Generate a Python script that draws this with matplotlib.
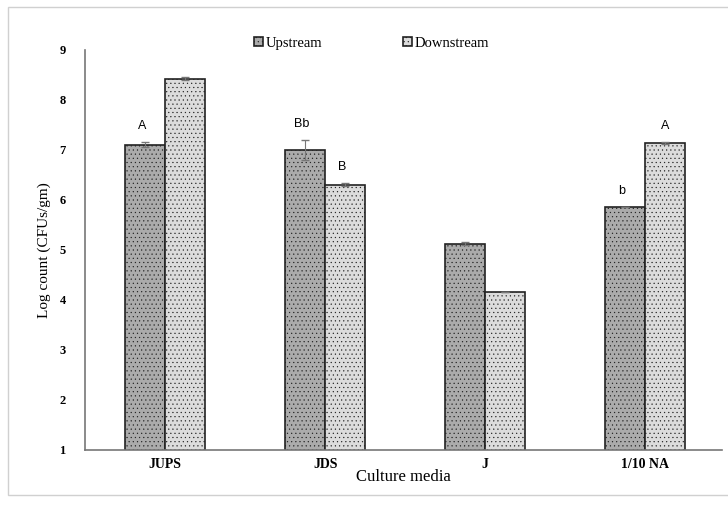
import numpy as np
import matplotlib.pyplot as plt

media = ["JUPS", "JDS", "J", "1/10 NA"]
upstream = [7.1, 7.0, 5.12, 5.86]
downstream = [8.42, 6.3, 4.16, 7.14]
up_err = [0.05, 0.2, 0.03, 0.0]
down_err = [0.03, 0.03, 0.0, 0.02]
up_letters = ["A", "Bb", "", "b"]
down_letters = ["", "B", "", "A"]

plt.rcParams["hatch.linewidth"] = 0.35
plt.rcParams["hatch.color"] = "#9a9a9a"

fig = plt.figure(figsize=(7.28, 5.09), dpi=100)
ax = fig.add_axes([0.117, 0.116, 0.875, 0.786])

x = np.arange(len(media))
w = 0.25
b1 = ax.bar(x - w / 2, upstream, w, bottom=0, color="#ababab", edgecolor="#222222",
            linewidth=1.2, hatch="....", yerr=up_err,
            error_kw=dict(ecolor="#777777", capsize=3, elinewidth=0.8))
b2 = ax.bar(x + w / 2, downstream, w, bottom=0, color="#dcdcdc", edgecolor="#222222",
            linewidth=1.2, hatch="....", yerr=down_err,
            error_kw=dict(ecolor="#777777", capsize=3, elinewidth=0.8))

for xi, v, e, t in zip(x - w / 2, upstream, up_err, up_letters):
    if t:
        ax.text(xi - 0.02, v + e + 0.2, t, ha="center", va="bottom",
                family="Liberation Sans", fontsize=9)
for xi, v, e, t in zip(x + w / 2, downstream, down_err, down_letters):
    if t:
        ax.text(xi - 0.02 if t == "B" else xi, v + e + 0.2, t, ha="center", va="bottom",
                family="Liberation Sans", fontsize=9)

ax.set_xlim(-0.5, 3.48)
ax.set_ylim(1, 9)
ax.set_yticks(range(1, 10))
ax.set_xticks(x)
ax.set_xticklabels(media, family="Liberation Serif", fontweight="bold", fontsize=10)
for lab in ax.get_yticklabels():
    lab.set_family("Liberation Serif")
    lab.set_fontweight("bold")
    lab.set_fontsize(9)
ax.tick_params(length=0)
ax.tick_params(axis="y", pad=14)
ax.tick_params(axis="x", pad=6)
for s in ["top", "right"]:
    ax.spines[s].set_visible(False)
ax.spines["left"].set_color("#777777")
ax.spines["bottom"].set_color("#777777")
ax.spines["left"].set_linewidth(1.2)
ax.spines["bottom"].set_linewidth(1.2)

ax.set_xlabel("Culture media", family="Liberation Serif", fontsize=12, labelpad=-2)
ax.set_ylabel("Log count (CFUs/gm)", family="Liberation Serif", fontsize=11, labelpad=6)

leg = ax.legend([b1, b2], ["Upstream", "Downstream"], loc="upper center",
                bbox_to_anchor=(0.45, 1.065), ncol=2, frameon=False,
                handlelength=0.6, handleheight=0.6, handletextpad=0.2,
                columnspacing=5.5, prop={"family": "Liberation Serif", "size": 10.5})

fig.patches.append(plt.Rectangle((0.011, 0.027), 0.99, 0.96, transform=fig.transFigure,
                                 fill=False, edgecolor="#d0d0d0", linewidth=1))

fig.savefig("out.png", dpi=100)
